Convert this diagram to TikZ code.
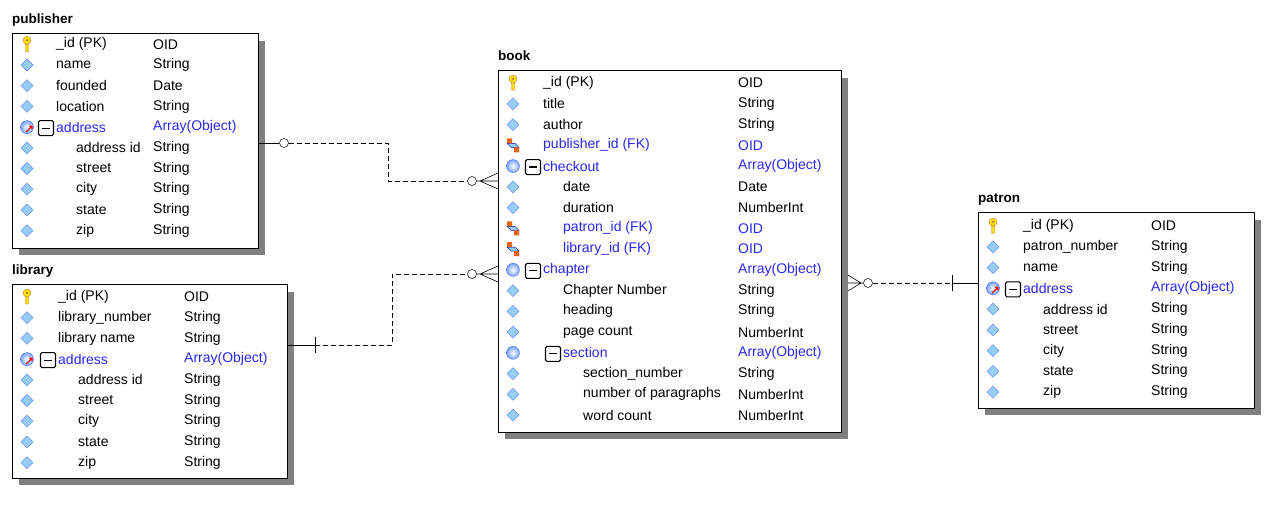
\documentclass[tikz,border=0pt]{standalone}
\usepackage{fontspec}
\setmainfont{Liberation Sans}
\usetikzlibrary{positioning}

\definecolor{txtblue}{RGB}{40,40,240}
\definecolor{shadowgray}{RGB}{128,128,128}
\definecolor{diablue}{RGB}{150,205,245}
\definecolor{fkorange}{RGB}{235,100,20}

\tikzset{
  tbl/.style={draw, fill=white, line width=0.8pt, inner sep=0pt, anchor=north west},
  ttl/.style={anchor=base west, inner sep=0pt, font=\fontsize{13.5}{15}\selectfont\bfseries},
  fld/.style={anchor=west, inner sep=0pt, font=\fontsize{14}{16}\selectfont},
  rel/.style={dash pattern=on 5pt off 3pt, line width=0.6pt},
  lnk/.style={line width=0.6pt},
  ring/.style={circle, draw, fill=white, inner sep=0pt, minimum size=9pt, line width=0.5pt},
  icd/.pic={\filldraw[draw=diablue!60!blue, fill=diablue, line width=0.4pt]
    (-6,0) -- (0,-6) -- (6,0) -- (0,6) -- cycle;},
  ick/.pic={\filldraw[draw=brown, fill=yellow!80!orange, line width=0.4pt]
    (0,-4) circle (4) (-1.5,0) rectangle (1.5,7);
    \fill[brown] (0,-4) circle (1.3);},
  icf/.pic={\filldraw[draw=blue!60!black, fill=diablue, line width=0.4pt]
    (-6,-2) -- (2,-2) -- (6,2) -- (-2,2) -- cycle;
    \fill[fkorange] (-6,-7) rectangle (-1,-2) (1,2) rectangle (6,7);},
  ics/.pic={\shade[inner color=white, outer color=diablue!80!blue] (0,0) circle (6.5);
    \draw[diablue!50!blue, line width=0.4pt] (0,0) circle (6.5);},
  ica/.pic={\shade[inner color=white, outer color=diablue!80!blue] (0,0) circle (6.5);
    \draw[diablue!50!blue, line width=0.4pt] (0,0) circle (6.5);
    \draw[red, line width=1.2pt] (-1,5) -- (5,-1) (5,-1) -- (2,-1) (5,-1) -- (5,2);},
  mbox/.style={draw, line width=1.1pt, rounded corners=1.5pt, minimum width=15pt, minimum height=15pt, inner sep=0pt}
}

% box with shadow and title
\newcommand\tablebox[6]{%
  \fill[shadowgray] (#2+7,#3+8) rectangle (#2+#4+7,#3+#5+7);
  \node[tbl, minimum width=#4, minimum height=#5] (#1) at (#2,#3) {};
  \node[ttl] (#1-title) at (#2,#3-10) {#6};
}

\begin{document}
\begin{tikzpicture}[x=1pt, y=-1pt]
\useasboundingbox (0,0) rectangle (1280,520);

% publisher
\tablebox{publisher}{12}{33}{246}{215}{publisher}
\foreach \ic/\mb/\dx/\nm/\ty/\cl [count=\i] in {
  ick/0/0/\_id (PK)/OID/black, icd/0/0/name/String/black,
  icd/0/0/founded/Date/black, icd/0/0/location/String/black,
  ica/1/0/address/Array(Object)/txtblue, icd/0/20/address id/String/black,
  icd/0/20/street/String/black, icd/0/20/city/String/black,
  icd/0/20/state/String/black, icd/0/20/zip/String/black}{
  \pic at (27,23.6+\i*20.7) {\ic};
  \ifnum\mb>0 \node[mbox] at (46+\dx,24.6+\i*20.7) {\rule{8pt}{1.2pt}}; \fi
  \node[fld, text=\cl] (publisher-n\i) at (56+\dx,23.6+\i*20.7) {\nm};
  \node[fld, text=\cl] (publisher-t\i) at (153,23.6+\i*20.7) {\ty};
}

% library
\tablebox{library}{12}{284}{275}{194}{library}
\foreach \ic/\mb/\dx/\nm/\ty/\cl [count=\i] in {
  ick/0/0/\_id (PK)/OID/black, icd/0/0/library\_number/String/black,
  icd/0/0/library name/String/black,
  ica/1/0/address/Array(Object)/txtblue, icd/0/20/address id/String/black,
  icd/0/20/street/String/black, icd/0/20/city/String/black,
  icd/0/20/state/String/black, icd/0/20/zip/String/black}{
  \pic at (27,276.3+\i*20.7) {\ic};
  \ifnum\mb>0 \node[mbox] at (48+\dx,277.3+\i*20.7) {\rule{8pt}{1.2pt}}; \fi
  \node[fld, text=\cl] (library-n\i) at (58+\dx,276.3+\i*20.7) {\nm};
  \node[fld, text=\cl] (library-t\i) at (184,276.3+\i*20.7) {\ty};
}

% book
\tablebox{book}{498}{70}{343}{362}{book}
\foreach \ic/\mb/\dx/\nm/\ty/\cl [count=\i] in {
  ick/0/0/\_id (PK)/OID/black, icd/0/0/title/String/black,
  icd/0/0/author/String/black, icf/0/0/publisher\_id (FK)/OID/txtblue,
  ics/1/0/checkout/Array(Object)/txtblue, icd/0/20/date/Date/black,
  icd/0/20/duration/NumberInt/black, icf/0/20/patron\_id (FK)/OID/txtblue,
  icf/0/20/library\_id (FK)/OID/txtblue, ics/1/0/chapter/Array(Object)/txtblue,
  icd/0/20/Chapter Number/String/black, icd/0/20/heading/String/black,
  icd/0/20/page count/NumberInt/black, ics/1/20/section/Array(Object)/txtblue,
  icd/0/40/section\_number/String/black,
  icd/0/40/number of paragraphs/NumberInt/black,
  icd/0/40/word count/NumberInt/black}{
  \pic at (513,62.3+\i*20.75) {\ic};
  \ifnum\mb>0 \node[mbox] at (533+\dx,63.3+\i*20.75) {\rule{8pt}{1.2pt}}; \fi
  \node[fld, text=\cl] (book-n\i) at (543+\dx,62.3+\i*20.75) {\nm};
  \node[fld, text=\cl] (book-t\i) at (738,62.3+\i*20.75) {\ty};
}

% patron
\tablebox{patron}{978}{212}{276}{196}{patron}
\foreach \ic/\mb/\dx/\nm/\ty/\cl [count=\i] in {
  ick/0/0/\_id (PK)/OID/black, icd/0/0/patron\_number/String/black,
  icd/0/0/name/String/black,
  ica/1/0/address/Array(Object)/txtblue, icd/0/20/address id/String/black,
  icd/0/20/street/String/black, icd/0/20/city/String/black,
  icd/0/20/state/String/black, icd/0/20/zip/String/black}{
  \pic at (993,205.3+\i*20.75) {\ic};
  \ifnum\mb>0 \node[mbox] at (1013+\dx,206.3+\i*20.75) {\rule{8pt}{1.2pt}}; \fi
  \node[fld, text=\cl] (patron-n\i) at (1023+\dx,205.3+\i*20.75) {\nm};
  \node[fld, text=\cl] (patron-t\i) at (1151,205.3+\i*20.75) {\ty};
}

% publisher -> book
\node[ring] (r1) at (284,143) {};
\node[ring] (r2) at (472,181) {};
\coordinate (pub-end) at (258,143);
\coordinate (crow1) at (480,181);
\draw[lnk] (pub-end) -- (r1);
\draw[rel] (r1) -- (388,143) |- (r2);
\draw[lnk] (r2) -- (crow1) (crow1) -- (498,173) (crow1) -- (498,181) (crow1) -- (498,189);

% library -> book
\node[ring] (r3) at (472,274) {};
\coordinate (lib-end) at (287,345);
\coordinate (tick1) at (315,345);
\coordinate (crow2) at (480,274);
\draw[lnk] (lib-end) -- (tick1) ([yshift=8pt]tick1) -- ([yshift=-8pt]tick1);
\draw[rel] (tick1) -- (392,345) |- (r3);
\draw[lnk] (r3) -- (crow2) (crow2) -- (498,266) (crow2) -- (498,274) (crow2) -- (498,282);

% book -> patron
\node[ring] (r4) at (868,283) {};
\coordinate (crow3) at (861,283);
\coordinate (book-end) at (848,283);
\coordinate (tick2) at (952,283);
\coordinate (pat-end) at (978,283);
\draw[lnk] (r4) -- (crow3) (crow3) -- (848,275) (crow3) -- (book-end) (crow3) -- (848,291);
\draw[rel] (r4) -- (tick2);
\draw[lnk] (tick2) -- (pat-end) ([yshift=8pt]tick2) -- ([yshift=-8pt]tick2);
\end{tikzpicture}
\end{document}
